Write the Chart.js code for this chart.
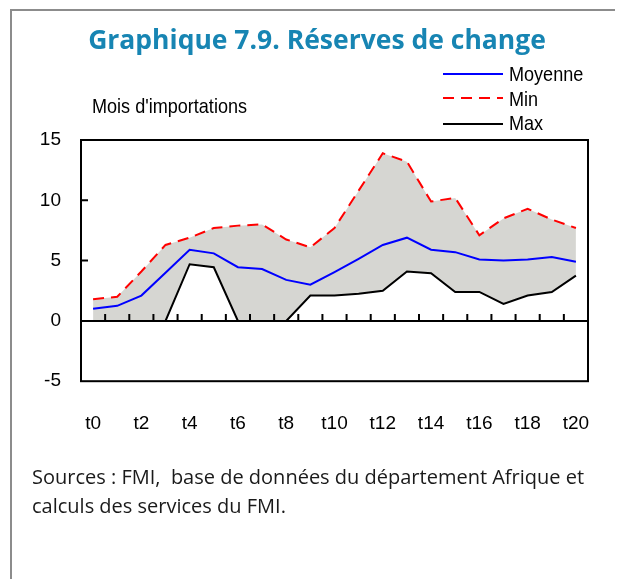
<!DOCTYPE html>
<html>
<head>
<meta charset="utf-8">
<script src="https://cdn.jsdelivr.net/npm/chart.js@4.4.1/dist/chart.umd.min.js"></script>
<style>
  body { margin: 0; width: 618px; height: 579px; background: #fff; position: relative; overflow: hidden;
         font-family: 'Liberation Sans', Arial, sans-serif; color: #000; }
  #frame { position: absolute; left: 10px; top: 9px; width: 603px; height: 620px;
           border-top: 2px solid #8c8c8c; border-left: 2px solid #8c8c8c; }
  #chart { position: absolute; left: 0; top: 0; }
  .title { position: absolute; left: 0; width: 634px; top: 21px; text-align: center; color: #1785b3;
           font: bold 26.5px 'Open Sans', sans-serif; }
  .narrow { position: absolute; font-size: 21px; transform: scaleX(0.86); transform-origin: left center; white-space: nowrap; }
  .unit { left: 92px; top: 94px; }
  .legend div { height: 24.5px; line-height: 24.5px; }
  .source { position: absolute; left: 32px; top: 462px; font: 20px 'Open Sans', sans-serif;
            line-height: 29px; color: #1a1a1a; white-space: nowrap; }
  svg.key { position: absolute; left: 443px; }
</style>
</head>
<body>
<div id="frame"></div>
<canvas id="chart" width="618" height="579"></canvas>
<div class="title">Graphique 7.9. Réserves de change</div>
<div class="narrow unit">Mois d'importations</div>
<svg class="key" style="top:72px" width="60" height="4"><line x1="0" y1="2" x2="60" y2="2" stroke="#0000ff" stroke-width="2"/></svg>
<svg class="key" style="top:96px" width="60" height="4"><line x1="0" y1="2" x2="60" y2="2" stroke="#ff0000" stroke-width="2" stroke-dasharray="11 7"/></svg>
<svg class="key" style="top:122px" width="60" height="4"><line x1="0" y1="2" x2="60" y2="2" stroke="#000" stroke-width="2"/></svg>
<div class="narrow legend" style="left:509px; top:62px">
  <div>Moyenne</div>
  <div>Min</div>
  <div>Max</div>
</div>
<div class="source">Sources : FMI,&nbsp; base de données du département Afrique et<br>calculs des services du FMI.</div>

<script>
const periods = ['t0', 't1', 't2', 't3', 't4', 't5', 't6', 't7', 't8', 't9', 't10',
                 't11', 't12', 't13', 't14', 't15', 't16', 't17', 't18', 't19', 't20'];
const moyenne = [1.0, 1.25, 2.1, 4.0, 5.9, 5.6, 4.45, 4.3, 3.4, 3.0, 4.05,
                 5.15, 6.3, 6.9, 5.9, 5.7, 5.1, 5.0, 5.1, 5.3, 4.9];
const minimum = [1.8, 2.0, 4.1, 6.3, 6.9, 7.7, 7.9, 8.0, 6.75, 6.1, 7.7,
                 10.8, 13.9, 13.2, 9.9, 10.2, 7.1, 8.5, 9.3, 8.4, 7.7];
const maximum = [0, 0, 0, 0, 4.7, 4.45, 0, 0, 0, 2.1, 2.1,
                 2.25, 2.5, 4.1, 3.95, 2.4, 2.4, 1.4, 2.1, 2.4, 3.75];
const yTicks = [-5, 0, 5, 10, 15];

const axisFont = { family: "'Liberation Sans', Arial", size: 19 };

// box around the plot, zero line and the small inward tick marks
const plotFrame = {
  id: 'plotFrame',
  afterDatasetsDraw(chart) {
    const { ctx, chartArea: a, scales: { x, y } } = chart;
    ctx.save();
    ctx.strokeStyle = '#000';
    ctx.lineWidth = 2;
    ctx.strokeRect(a.left, a.top, a.right - a.left, a.bottom - a.top);
    const y0 = y.getPixelForValue(0);
    ctx.beginPath();
    ctx.moveTo(a.left, y0);
    ctx.lineTo(a.right, y0);
    yTicks.forEach(v => {
      if (v === yTicks[0] || v === yTicks[yTicks.length - 1]) return;
      const py = y.getPixelForValue(v);
      ctx.moveTo(a.left, py);
      ctx.lineTo(a.left + 7, py);
    });
    for (let i = 1; i < periods.length; i++) {
      const px = (x.getPixelForValue(i - 1) + x.getPixelForValue(i)) / 2;
      ctx.moveTo(px, y0);
      ctx.lineTo(px, y0 - 7);
    }
    ctx.stroke();
    ctx.restore();
  }
};

new Chart(document.getElementById('chart'), {
  type: 'line',
  data: {
    labels: periods,
    datasets: [
      { label: 'Moyenne', data: moyenne, borderColor: '#0000ff', borderWidth: 2, pointRadius: 0, fill: false },
      { label: 'Min', data: minimum, borderColor: '#ff0000', borderWidth: 2, borderDash: [11, 7], pointRadius: 0,
        fill: 2, backgroundColor: '#d6d6d2' },
      { label: 'Max', data: maximum, borderColor: '#000000', borderWidth: 2, pointRadius: 0, fill: false }
    ]
  },
  options: {
    responsive: false,
    animation: false,
    layout: { padding: { left: 30, right: 30, top: 140, bottom: 113 } },
    plugins: {
      legend: { display: false },
      tooltip: { enabled: false },
      filler: { drawTime: 'beforeDatasetsDraw' }
    },
    scales: {
      x: {
        offset: true,
        grid: { display: false, drawTicks: false },
        border: { display: false },
        ticks: {
          autoSkip: false, maxRotation: 0, color: '#000', font: axisFont, padding: 31,
          callback: (v, i) => (i % 2 === 0 ? periods[i] : '')
        },
        // the large label padding would otherwise also push the plot in from the sides
        afterFit: s => { s.paddingLeft = 0; s.paddingRight = 0; }
      },
      y: {
        min: -5, max: 15,
        grid: { display: false, drawTicks: false },
        border: { display: false },
        afterBuildTicks: s => { s.ticks = yTicks.map(v => ({ value: v })); },
        ticks: { color: '#000', font: axisFont, padding: 20 },
        afterFit: s => { s.width = 51; }
      }
    }
  },
  plugins: [plotFrame]
});
</script>
</body>
</html>
